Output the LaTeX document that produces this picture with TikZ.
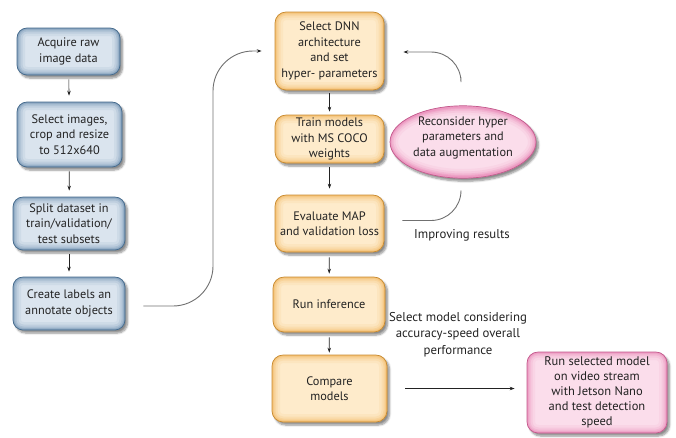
\documentclass[tikz,border=0pt]{standalone}
\usepackage{fontspec}
\setmainfont{PT Sans}
\usetikzlibrary{shapes.geometric,arrows.meta,shadows.blur,calc}
\definecolor{bedge}{HTML}{44698B}
\definecolor{bband}{HTML}{7F9DBA}
\definecolor{bin}{HTML}{DAE4EE}
\definecolor{oedge}{HTML}{C58A32}
\definecolor{oband}{HTML}{F5BE6E}
\definecolor{oin}{HTML}{FEEBCB}
\definecolor{pedge}{HTML}{C25A8C}
\definecolor{pband}{HTML}{EC93BE}
\definecolor{pin}{HTML}{FBDDEB}
\definecolor{txt}{HTML}{222222}
\definecolor{conn}{HTML}{707070}
\tikzset{
  glowrect/.style 2 args={path picture={
    \foreach \w/\o in {16/0.12,11/0.2,7/0.3,4/0.45,2/0.7}
      \draw[line width=\w pt, draw=#1, opacity=\o, rounded corners=#2]
        (path picture bounding box.south west) rectangle (path picture bounding box.north east);}},
  basebox/.style={inner sep=0pt, align=center, text=txt,
    font=\fontsize{12.3}{15.5}\selectfont, line width=0.7pt,
    blur shadow={shadow xshift=2.5pt, shadow yshift=-3pt, shadow blur steps=6, shadow opacity=45}},
  bluebox/.style={basebox, rounded corners=10pt, fill=bin, draw=bedge, glowrect={bband}{10pt}},
  orangebox/.style={basebox, rounded corners=11pt, fill=oin, draw=oedge, glowrect={oband}{11pt}},
  pinkbox/.style={basebox, rounded corners=11pt, fill=pin, draw=pedge, glowrect={pband}{11pt},
    font=\fontsize{12.5}{15}\selectfont},
  pinkell/.style={basebox, ellipse, fill=pin, draw=pedge, minimum width=146pt, minimum height=70pt,
    path picture={
    \foreach \w/\o in {16/0.12,11/0.2,7/0.3,4/0.45,2/0.7}
      \draw[line width=\w pt, draw=pband, opacity=\o]
        (path picture bounding box.center) ellipse [x radius=73pt, y radius=35pt];}},
  lab/.style={align=center, text=txt, font=\fontsize{12.8}{16.5}\selectfont, inner sep=0pt},
  arr/.style={draw=txt, line width=0.6pt, -{Stealth[length=5pt,width=3.5pt]}},
  curvearr/.style={draw=conn, line width=0.9pt, -{Stealth[length=5pt,width=3.5pt,color=txt]}},
  curveline/.style={draw=conn, line width=0.9pt},
}
\begin{document}
\begin{tikzpicture}[x=1pt,y=-1pt]
\useasboundingbox (0,0) rectangle (676,437);
% left column
\node[bluebox, minimum width=103pt, minimum height=47pt] (l1) at (68.5,51.5) {Acquire raw\\image data};
\node[bluebox, minimum width=105pt, minimum height=65pt] (l2) at (69.5,134.5) {Select images,\\crop and resize\\to 512x640};
\node[bluebox, minimum width=112pt, minimum height=53pt] (l3) at (69,223.5) {Split dataset in\\train/validation/\\test subsets};
\node[bluebox, minimum width=112pt, minimum height=53pt] (l4) at (69,303.5) {Create labels an\\annotate objects};
% middle column
\node[orangebox, minimum width=109pt, minimum height=78pt] (oA) at (329.5,51) {Select DNN\\architecture\\and set\\hyper- parameters};
\node[orangebox, minimum width=109pt, minimum height=48pt] (oB) at (329.5,139) {Train models\\with MS COCO\\weights};
\node[orangebox, minimum width=109pt, minimum height=57pt] (oC) at (329.5,223.5) {Evaluate MAP\\and validation loss};
\node[orangebox, minimum width=112pt, minimum height=55pt] (oD) at (329,304.5) {Run inference};
\node[orangebox, minimum width=115pt, minimum height=67pt] (oE) at (329.5,388.5) {Compare\\models};
% ellipse
\node[pinkell] (ell) at (463,142) {Reconsider hyper\\parameters and\\data augmentation\\[-4pt]\mbox{}};
% pink box
\node[pinkbox, minimum width=140pt, minimum height=81pt] (pk) at (597,392.5) {Run selected model\\on video stream\\with Jetson Nano\\and test detection\\speed};
% labels
\node[lab] (imp) at (462,235) {Improving results};
\node[lab] (sel) at (458,334.5) {Select model considering\\accuracy-speed overall\\performance};
% straight arrows
\draw[arr, shorten <=4pt, shorten >=6pt] (l1) -- (l2);
\draw[arr, shorten <=4pt, shorten >=6pt] (l2) -- (l3);
\draw[arr, shorten <=4pt, shorten >=5pt] (l3) -- (l4);
\draw[arr, shorten <=3pt, shorten >=3pt] (oA) -- (oB);
\draw[arr, shorten <=4pt, shorten >=6pt] (oB) -- (oC);
\draw[arr, shorten <=5pt, shorten >=3pt] (oC) -- (oD);
\draw[arr, shorten <=5pt, shorten >=2pt] (oD) -- (oE);
% curved connectors
\coordinate (bend) at (213,0);
\draw[curvearr, rounded corners=40pt] ([xshift=18pt,yshift=-2.5pt]l4.east) -| (bend |- oA.west) -- ([xshift=-13pt]oA.west);
\draw[curvearr, rounded corners=30pt] ([xshift=-2pt,yshift=28pt]ell.north) |- ([xshift=19pt,yshift=-1pt]oA.east);
\draw[curveline, rounded corners=30pt] ([xshift=-2pt,yshift=-14pt]ell.south) |- ([xshift=18pt,yshift=3pt]oC.east);
\draw[arr] ([xshift=18pt]oE.east) -- ([xshift=-12pt]pk.west |- oE.east);
\end{tikzpicture}
\end{document}
